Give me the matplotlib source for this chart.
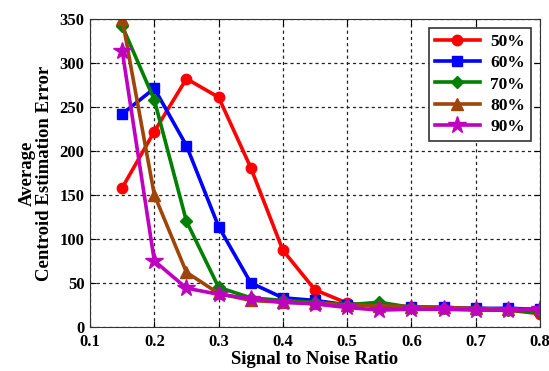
import numpy as np
import matplotlib
matplotlib.use("Agg")
import matplotlib.pyplot as plt

# === Data ===
snr = [0.15, 0.2, 0.25, 0.3, 0.35, 0.4, 0.45, 0.5, 0.55, 0.6, 0.65, 0.7, 0.75, 0.8]
err_50 = [158, 222, 282, 261, 181, 87, 42, 27, 23, 22, 21, 20, 19, 15]
err_60 = [242, 271, 206, 114, 50, 33, 30, 25, 24, 23, 22, 21, 21, 20]
err_70 = [342, 258, 120, 45, 33, 30, 28, 25, 28, 22, 21, 20, 19, 17]
err_80 = [350, 150, 62, 38, 30, 28, 27, 25, 24, 23, 22, 21, 20, 20]
err_90 = [314, 75, 44, 37, 32, 28, 26, 22, 19, 20, 20, 19, 19, 20]

series = [
    ("50%", err_50, "#ff0000", "o", 7.5),
    ("60%", err_60, "#0000ff", "s", 7.5),
    ("70%", err_70, "#008000", "D", 6.5),
    ("80%", err_80, "#a0450a", "^", 8.5),
    ("90%", err_90, "#c000c0", "*", 13),
]

plt.rcParams['font.family'] = ['Liberation Serif', 'DejaVu Serif']
plt.rcParams['font.weight'] = 'bold'

fig = plt.figure(figsize=(5.49, 3.71), dpi=100)
ax = fig.add_axes([0.164, 0.119, 0.8196, 0.830])

for label, vals, color, marker, ms in series:
    ax.plot(snr, vals, color=color, marker=marker, markersize=ms, linewidth=2.6,
            label=label)

ax.set_xlim(0.1, 0.8)
ax.set_ylim(0, 350)
ax.set_xticks(np.arange(0.1, 0.81, 0.1))
ax.set_xticklabels(["0.1", "0.2", "0.3", "0.4", "0.5", "0.6", "0.7", "0.8"])
ax.set_yticks(range(0, 351, 50))
ax.tick_params(direction='in', top=True, right=True, labelsize=12, length=4)
ax.tick_params(axis='x', pad=5)
ax.tick_params(axis='y', pad=4)
for lbl in ax.get_xticklabels() + ax.get_yticklabels():
    lbl.set_fontweight('bold')

ax.grid(True, linestyle=(0, (2.5, 2.5)), color='#222222', linewidth=0.9)
for sp in ax.spines.values():
    sp.set_color('#333333')

ax.set_xlabel("Signal to Noise Ratio", fontsize=13.5, fontweight='bold', labelpad=1)
ax.set_ylabel("Average\nCentroid Estimation Error", fontsize=13.5, fontweight='bold',
              linespacing=0.95, labelpad=5)

leg = ax.legend(loc='upper right', fontsize=12.5, framealpha=1, fancybox=False,
                edgecolor='#333333', handlelength=2.6, borderpad=0.35,
                labelspacing=0.3, borderaxespad=0.5, handletextpad=0.6)
leg.get_frame().set_linewidth(1.2)

fig.savefig("out.png", dpi=100)
